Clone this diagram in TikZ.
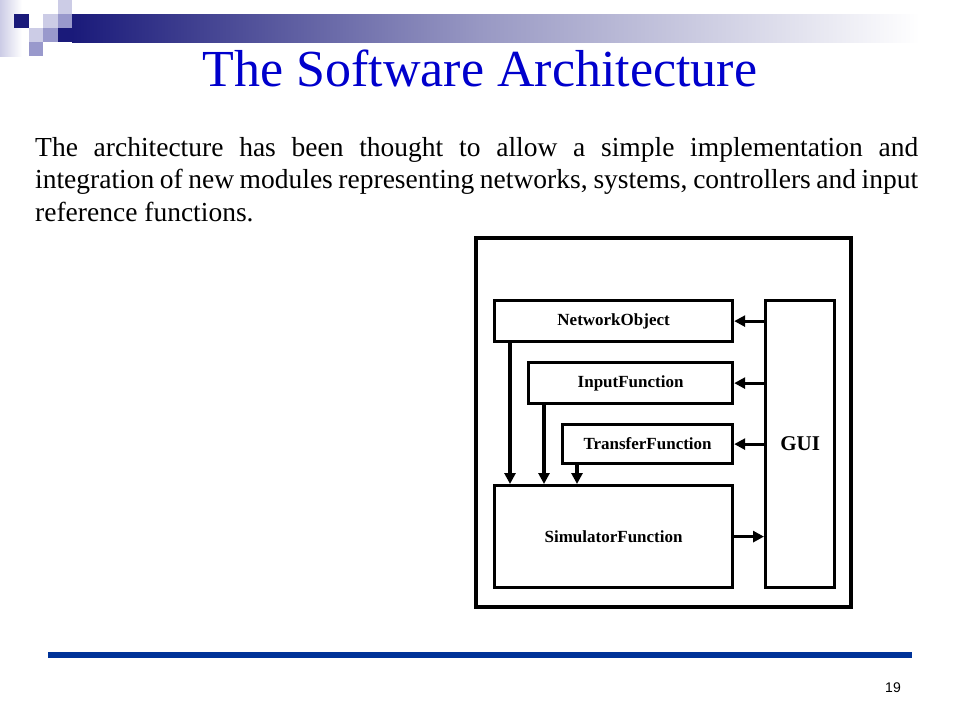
\documentclass[tikz,border=0pt]{standalone}
\usepackage{fontspec}
\setmainfont{Liberation Serif}
\setsansfont{Liberation Sans}
\usetikzlibrary{positioning,calc,arrows.meta}
\definecolor{titleblue}{RGB}{0,0,204}
\definecolor{rulerblue}{RGB}{0,51,153}
\definecolor{navy}{RGB}{26,26,122}
\definecolor{lilac}{RGB}{204,204,230}
\definecolor{midlilac}{RGB}{153,153,204}

\begin{document}
\begin{tikzpicture}[
        x = 1pt, y = -1pt, % pixel coordinates, y grows downwards
        > = {Triangle[length=11pt,width=11pt]}, % arrow head style
        flow/.style = {->, line width=3.2pt}, % connector style
        block/.style = {rectangle, draw=black, line width=3.2pt, inner sep=0pt,
          anchor=north west, font=\bfseries\fontsize{17}{19}\selectfont}
      ]

      \useasboundingbox[fill=white] (0,0) rectangle (960,720);

      % slide decoration
      \shade[left color=lilac, right color=white] (0,0) rectangle (22,56);
      \fill[navy] (14,14) rectangle (29,28);
      \fill[lilac] (58,0) rectangle (72,14);
      \fill[lilac] (43,14) rectangle (58,28);
      \fill[midlilac] (58,14) rectangle (72,28);
      \fill[lilac] (29,28) rectangle (43,42);
      \fill[midlilac] (43,28) rectangle (58,42);
      \fill[midlilac] (29,42) rectangle (43,56);
      \fill[navy] (58,28) rectangle (72,42);
      \shade[left color=navy, right color=navy!45!white] (72,14) rectangle (480,42);
      \shade[left color=navy!45!white, right color=white] (480,14) rectangle (920,42);

      \node[text=titleblue, anchor=base, font=\fontsize{52}{56}\selectfont] (title) at (480,86) {The Software Architecture};

      \node[anchor=north west, inner sep=0pt, text width=883pt, align=justify,
        font=\fontsize{27.5}{32.5}\selectfont] (intro) at (35,137)
        {The architecture has been thought to allow a simple implementation and\linebreak
         \mbox{integration} of new modules representing networks, systems, controllers and \mbox{input}
         reference functions.};

      % architecture
      \draw[line width=3.4pt] (476,238) rectangle (851,607);

      \node[block, minimum width=238pt, minimum height=41pt] (net) at (493,299) {NetworkObject};
      \node[block, minimum width=204pt, minimum height=41pt] (inp) at (527,361) {InputFunction};
      \node[block, minimum width=170pt, minimum height=39pt] (trf) at (561,423) {TransferFunction};
      \node[block, minimum width=238pt, minimum height=102pt] (sim) at (493,484) {SimulatorFunction};
      \node[block, minimum width=69pt, minimum height=287pt,
        font=\bfseries\fontsize{21}{23}\selectfont] (gui) at (764,299) {GUI};

      \draw[flow] (gui.west |- net.east) -- (net.east);
      \draw[flow] (gui.west |- inp.east) -- (inp.east);
      \draw[flow] (gui.west |- trf.east) -- (trf.east);
      \draw[flow] (sim.east) -- (sim.east -| gui.west);

      \coordinate (netout) at ($(net.south west)+(17,0)$);
      \coordinate (inpout) at ($(inp.south west)+(17,0)$);
      \coordinate (trfout) at ($(trf.south west)+(16,0)$);
      \draw[flow] (netout) -- (netout |- sim.north);
      \draw[flow] (inpout) -- (inpout |- sim.north);
      \draw[flow] (trfout) -- (trfout |- sim.north);

      % footer
      \fill[rulerblue] (48,652) rectangle (912,658);
      \node[font=\sffamily\fontsize{14}{16}\selectfont] (page) at (893,688) {19};

    \end{tikzpicture}
\end{document}
